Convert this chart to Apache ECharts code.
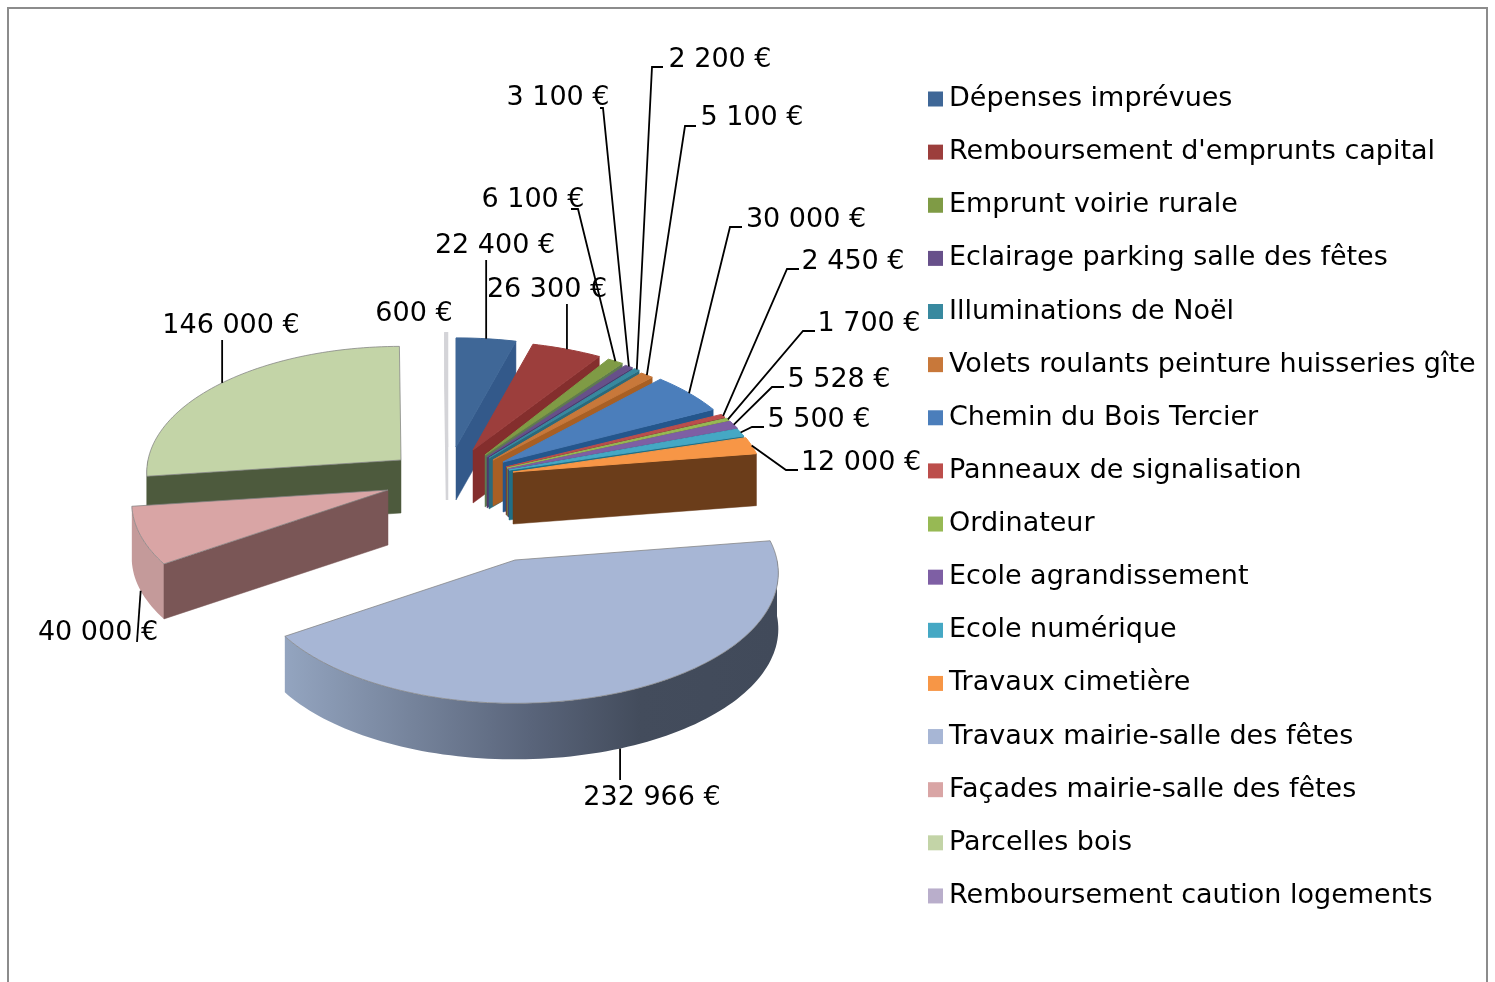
<!DOCTYPE html>
<html><head><meta charset="utf-8">
<style>html,body{margin:0;padding:0;background:#fff}#c{width:1495px;height:982px}</style>
<script src="https://cdn.jsdelivr.net/npm/echarts@6/dist/echarts.min.js"></script>
</head><body><div id="c"></div>
<script>
// ---- data ----
const categories = ["Dépenses imprévues","Remboursement d'emprunts capital","Emprunt voirie rurale","Eclairage parking salle des fêtes","Illuminations de Noël","Volets roulants peinture huisseries gîte","Chemin du Bois Tercier","Panneaux de signalisation","Ordinateur","Ecole agrandissement","Ecole numérique","Travaux cimetière","Travaux mairie-salle des fêtes","Façades mairie-salle des fêtes","Parcelles bois","Remboursement caution logements"];
const values = [22400,26300,6100,3100,2200,5100,30000,2450,1700,5528,5500,12000,232966,40000,146000,600];
// ---- styles ----
const topColors = ['#3f6797','#9c3e3c','#7f9b45','#67508a','#38899f','#c8783a','#4b7ebb','#bc4e4b','#97b954','#7e5fa4','#45a8c4','#f79646','#a7b6d5','#d9a5a5','#c3d4a7','#b9aecb'];
const faceColors = ['#33598a','#842e2d','#5f7a50','#4d3a6e','#2a6a7c','#a85f24','#24568c','#7a3230','#6d8a3a','#4e3a70','#1f6f86','#6b3d1a','#5f6a80','#7a5656','#4d5a3d','#d4d4d8'];
// ---- layout of the exploded projection: apex x, apex y, radius x, radius y, depth ----
const sliceLayout = [[456,447,256,120,53],[473,450,256,120,53],[485,455,250,123,52],[487,457,252,123,51],[489,458,252,123,51],[493,460,249,122,46],[503,462,246,122,50],[506,467,252,122,48],[507,468,253,122,48],[508,469,253,122,48],[509,470,252,122,50],[513,472,250,123,52],[515,560,262,129,56],[388,490,255,125,55],[401,460,253,125,53],[447,447,258,125,53]];
const paintOrder = [0,1,2,3,4,5,6,7,8,9,10,11,15,14,13,12];
// ---- label layout: text centre x,y; leader knee x,y (optional); leader end x,y (x optional: straight up/down) ----
const labelLayout = [[495,245,null,null,null,260],[547,289,null,null,null,304],[533,199,578,209,571,209],[558,97,603,108,600,108],[720,59,652,67,663,67],[752,117,685,126,696,126],[806,219,730,227,742,227],[853,261,787,269,799,269],[869,323,803,331,815,331],[839,379,772,387,784,387],[819,419,752,427,764,427],[861,462,786,470,798,470],[652,797,null,null,null,780],[98,632,null,null,137,642],[231,325,null,null,null,340],[414,313,null,null,null,null]];
const perspective = 0.1;
const labelFont = '27px "DejaVu Sans"';

const total = values.reduce((a,b)=>a+b,0);
const startAngles = [];
values.reduce((acc,v,i)=>{startAngles[i]=acc/total*360;return acc+v;},0);
const rad = d => d*Math.PI/180;
const fmt = v => String(v).replace(/\B(?=(\d{3})+$)/g,'\u00a0')+' €';

function project(i,deg,down){
  const L = sliceLayout[i], u=Math.sin(rad(deg)), v=Math.cos(rad(deg)), s=1/(1+perspective*v);
  return [L[0]+L[2]*u*s, L[1]-L[3]*v*s+(down?L[4]:0)];
}
function arc(i,a,b,down){
  const pts=[], n=Math.max(2,Math.ceil((b-a)/1.5));
  for(let k=0;k<=n;k++) pts.push(project(i,a+(b-a)*k/n,down));
  return pts;
}
const wallFill = {
  12:{type:'linear',x:287,y:0,x2:777,y2:0,global:true,colorStops:[{offset:0,color:'#93a4bf'},{offset:.25,color:'#76849c'},{offset:.5,color:'#59647a'},{offset:.72,color:'#434c5c'},{offset:1,color:'#414a5a'}]},
  13:'#c49a9a'
};
function renderSlice(i){
  return function(params,api){
    const a=startAngles[i], b=a+api.value(0)/total*360, L=sliceLayout[i];
    const apex=[L[0],L[1]], apexB=[L[0],L[1]+L[4]];
    const children=[];
    const wa=Math.max(a,90), wb=Math.min(b,270);
    if(wb>wa){
      children.push({type:'polygon',shape:{points:arc(i,wa,wb,false).concat(arc(i,wa,wb,true).reverse())},style:{fill:wallFill[i]||faceColors[i]}});
    }
    const faceAt = a>180 ? a : (b<180 ? b : null);
    if(faceAt!==null){
      children.push({type:'polygon',shape:{points:[apex,project(i,faceAt,false),project(i,faceAt,true),apexB]},style:{fill:faceColors[i],stroke:faceColors[i],lineWidth:i===15?2.5:.5}});
    }
    const topFill = i===15 ? faceColors[15] : topColors[i];
    children.push({type:'polygon',shape:{points:[apex].concat(arc(i,a,b,false))},style:{fill:topFill,stroke:(i>=12&&i<15)?'rgba(130,130,130,.75)':topFill,lineWidth:i===15?2.5:1}});
    const T=labelLayout[i];
    if(T[5]!==null){
      const mid=(a+b)/2, front=Math.cos(rad(mid))<0, s=project(i,mid,front);
      const pts = T[2]!==null ? [s,[T[2],T[3]],[T[4],T[5]]] : [s,[T[4]!==null?T[4]:s[0],T[5]]];
      children.push({type:'polyline',shape:{points:pts},style:{fill:'none',stroke:'#000',lineWidth:1.8}});
    }
    children.push({type:'text',style:{x:T[0],y:T[1]+1,text:fmt(api.value(0)),font:labelFont,fill:'#000',align:'center',verticalAlign:'middle'}});
    return {type:'group',children};
  };
}
const chart=echarts.init(document.getElementById('c'),null,{renderer:'canvas'});
chart.setOption({
  animation:false,
  backgroundColor:'#fff',
  graphic:[{type:'rect',z:-1,shape:{x:8,y:8,width:1479,height:1000},style:{fill:'#fff',stroke:'#8c8c8c',lineWidth:2}}],
  legend:{
    show:true,orient:'vertical',left:928,top:83,data:categories,icon:'rect',itemWidth:15,itemHeight:15,itemGap:21.13,
    selectedMode:false,padding:0,
    textStyle:{fontFamily:'DejaVu Sans',fontSize:27,color:'#000',lineHeight:30,padding:[0,0,2,1]}
  },
  series:categories.map((name,i)=>({
    type:'custom',name,coordinateSystem:'none',silent:true,
    z:2+paintOrder.indexOf(i),
    itemStyle:{color:topColors[i]},
    data:[[values[i]]],
    renderItem:renderSlice(i)
  }))
});
</script></body></html>
